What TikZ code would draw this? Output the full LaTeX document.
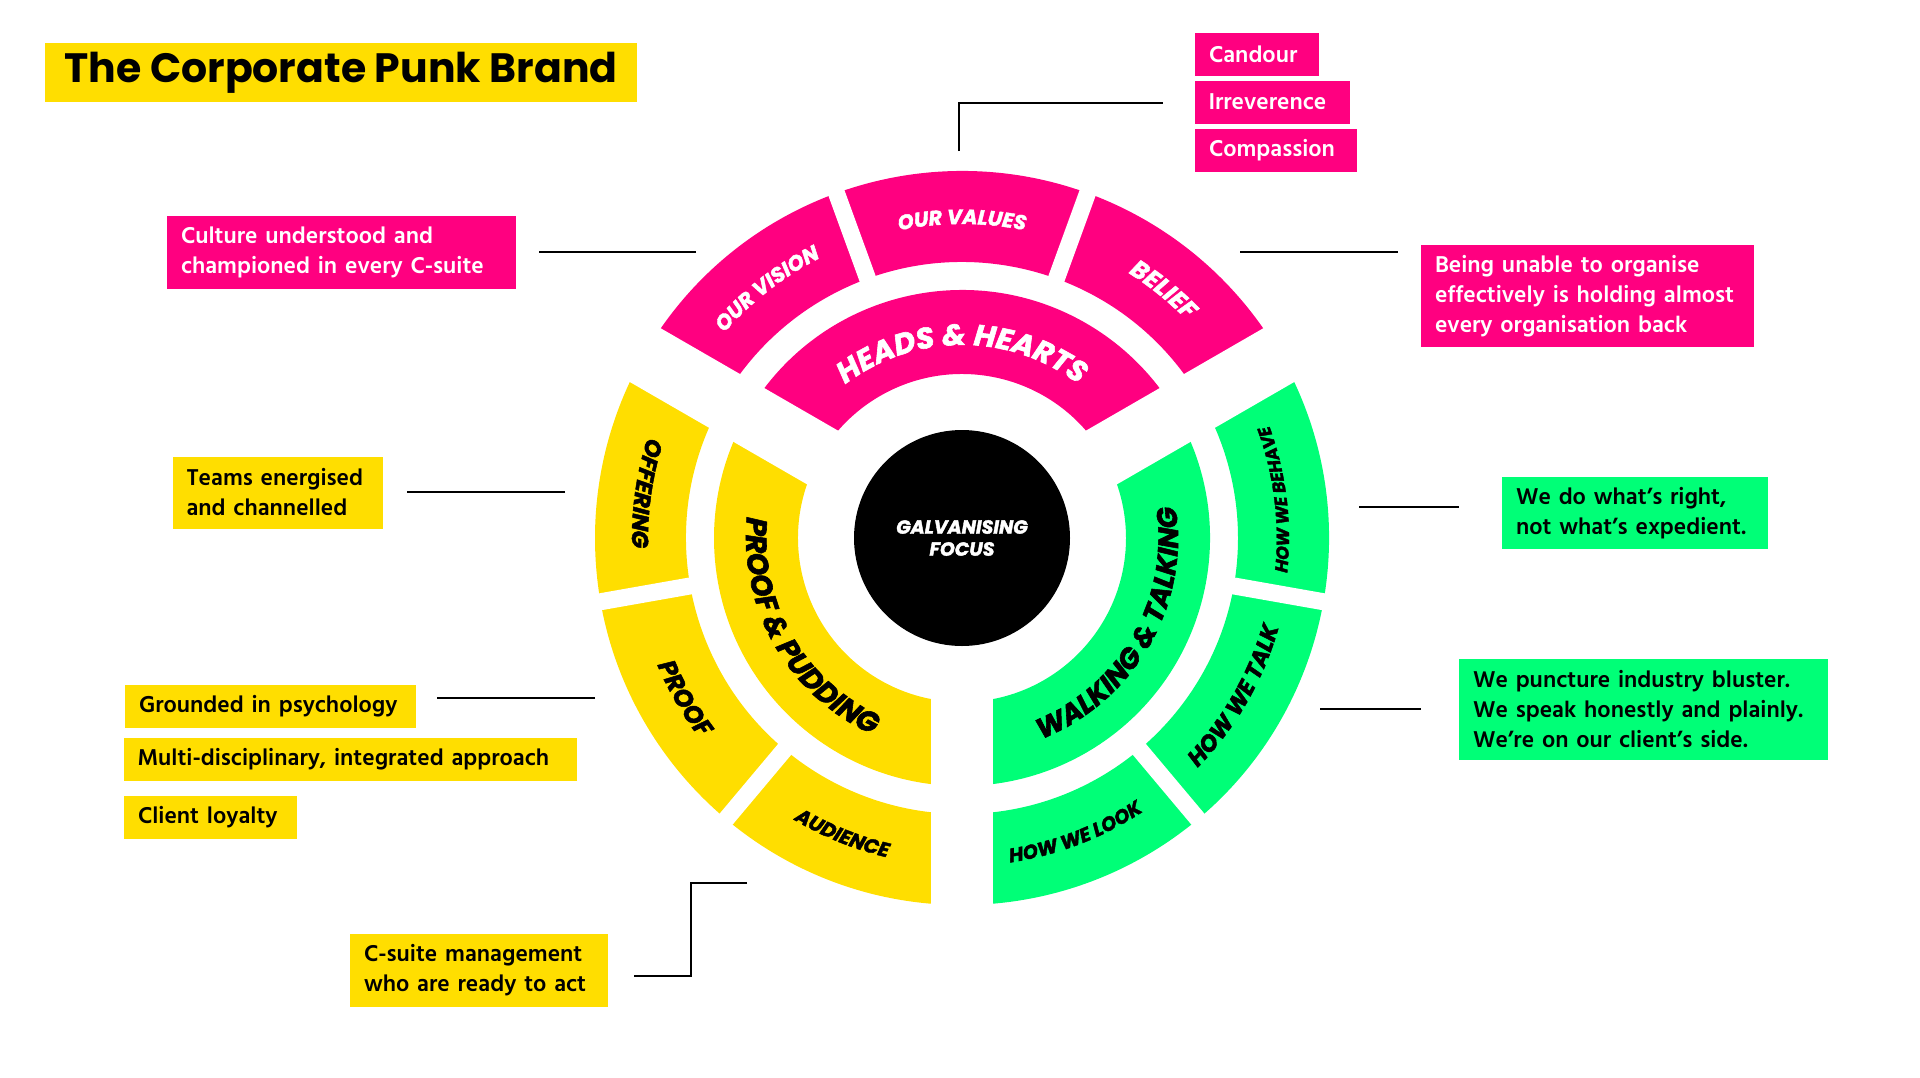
\documentclass[tikz,border=0pt]{standalone}
\usepackage{fontspec}
\usetikzlibrary{decorations.text}
\newfontfamily\punkfont{Poppins}[BoldItalicFeatures={FakeBold=2}]
\newfontfamily\titlefont{Poppins}
\newfontfamily\tagfont{Hind Siliguri}[UprightFont=* SemiBold]
\definecolor{punkpink}{RGB}{255,0,128}
\definecolor{punkyellow}{RGB}{255,222,0}
\definecolor{punkgreen}{RGB}{0,255,119}

\tikzset{
  tag/.style={inner xsep=14pt, inner ysep=0pt, align=left, font=\tagfont\fontsize{23.5}{30}\selectfont},
  leader/.style={line width=2pt, black},
  gap/.style={white, line width=62pt},
  subgap/.style={white, line width=17pt},
  arclabel/.style n args={3}{decorate, color=#1, decoration={text along path, text align=center,
    text={|\punkfont\bfseries\itshape\fontsize{#2}{#2}\selectfont\color{#1}|#3}}}
}

\begin{document}
\begin{tikzpicture}[x=1pt, y=1pt]
\useasboundingbox (0,0) rectangle (1920,-1077);
\coordinate (c) at (962,-538);

\foreach \col/\a in {punkpink/30, punkgreen/-90, punkyellow/150} {
    \fill[\col, shift={(c)}] (\a:164) arc[start angle=\a, end angle=\a+120, radius=164]
        -- (\a+120:248) arc[start angle=\a+120, end angle=\a, radius=248] -- cycle;
    \fill[\col, shift={(c)}] (\a:276) arc[start angle=\a, end angle=\a+120, radius=276]
        -- (\a+120:367) arc[start angle=\a+120, end angle=\a, radius=367] -- cycle;
}
\foreach \a in {30,150,270} {
    \draw[gap, shift={(c)}] (0,0) -- (\a:375);
}
\foreach \a in {70,110,190,230,310,350} {
    \draw[subgap, shift={(c)}] (\a:262) -- (\a:375);
}

\path[arclabel={white}{29.5}{HEADS {\&} HEARTS}, shift={(c)}] (150:193) arc[start angle=150, end angle=30, radius=193];
\path[arclabel={black}{29}{PROOF {\&} PUDDING}, shift={(c)}] (150:216) arc[start angle=150, end angle=270, radius=216];
\path[arclabel={black}{28}{WALKING {\&} TALKING}, shift={(c)}] (270:216) arc[start angle=270, end angle=390, radius=216];
\path[arclabel={white}{21}{OUR VISION}, shift={(c)}] (148:314) arc[start angle=148, end angle=108, radius=314];
\path[arclabel={white}{20.5}{OUR VALUES}, shift={(c)}] (110:314) arc[start angle=110, end angle=70, radius=314];
\path[arclabel={white}{24.5}{BELIEF}, shift={(c)}] (71:313) arc[start angle=71, end angle=31, radius=313];
\path[arclabel={black}{23}{OFFERING}, shift={(c)}] (152:330) arc[start angle=152, end angle=192, radius=330];
\path[arclabel={black}{25}{PROOF}, shift={(c)}] (190:330) arc[start angle=190, end angle=230, radius=330];
\path[arclabel={black}{20}{AUDIENCE}, shift={(c)}] (228:328) arc[start angle=228, end angle=268, radius=328];
\path[arclabel={black}{19.5}{HOW WE LOOK}, shift={(c)}] (271:328) arc[start angle=271, end angle=311, radius=328];
\path[arclabel={black}{23}{HOW WE TALK}, shift={(c)}] (310:329) arc[start angle=310, end angle=350, radius=329];
\path[arclabel={black}{17.5}{HOW WE BEHAVE}, shift={(c)}] (347:327) arc[start angle=347, end angle=387, radius=327];

\fill[black] (c) circle (108);
\node[align=center, white, font=\punkfont\bfseries\itshape\fontsize{19}{22}\selectfont] (focus) at (c) {GALVANISING\\FOCUS};

\node[fill=punkyellow, minimum width=592pt, minimum height=59pt, inner sep=0pt, font=\titlefont\bfseries\fontsize{41}{41}\selectfont] (title) at (341,-72.5) {The Corporate Punk Brand};

\node[tag, fill=punkpink, text=white, text width=321pt, minimum height=73pt] (vision) at (341.5,-252.5) {Culture understood and\\championed in every C-suite};
\node[tag, fill=punkpink, text=white, text width=96pt, minimum height=43pt] (candour) at (1257,-54) {Candour};
\node[tag, fill=punkpink, text=white, text width=127pt, minimum height=43pt] (irreverence) at (1272,-102) {Irreverence};
\node[tag, fill=punkpink, text=white, text width=134pt, minimum height=43pt] (compassion) at (1276,-150) {Compassion};
\node[tag, fill=punkpink, text=white, text width=305pt, minimum height=102pt] (belief) at (1587.5,-296) {Being unable to organise\\effectively is holding almost\\every organisation back};
\node[tag, fill=punkgreen, text width=238pt, minimum height=72pt] (behave) at (1635,-513) {We do what’s right,\\not what’s expedient.};
\node[tag, fill=punkgreen, text width=341pt, minimum height=101pt] (talk) at (1643.5,-709.5) {We puncture industry bluster.\\We speak honestly and plainly.\\We’re on our client’s side.};
\node[tag, fill=punkyellow, text width=182pt, minimum height=72pt] (teams) at (277.5,-492.5) {Teams energised\\and channelled};
\node[tag, fill=punkyellow, text width=263pt, minimum height=43pt] (grounded) at (270.5,-706) {Grounded in psychology};
\node[tag, fill=punkyellow, text width=425pt, minimum height=43pt] (multi) at (350,-759.5) {Multi-disciplinary, integrated approach};
\node[tag, fill=punkyellow, text width=145pt, minimum height=43pt] (client) at (210.5,-817) {Client loyalty};
\node[tag, fill=punkyellow, text width=230pt, minimum height=73pt] (csuite) at (479,-970.5) {C-suite management\\who are ready to act};

\coordinate (values-in) at (959,-151);
\coordinate (values-out) at (1163,-103);
\coordinate (vision-in) at (696,-252);
\coordinate (vision-out) at (539,-252);
\coordinate (belief-in) at (1240,-252);
\coordinate (belief-out) at (1398,-252);
\coordinate (offering-in) at (565,-492);
\coordinate (offering-out) at (407,-492);
\coordinate (behave-in) at (1359,-507);
\coordinate (behave-out) at (1459,-507);
\coordinate (talk-in) at (1320,-709);
\coordinate (talk-out) at (1421,-709);
\coordinate (proof-in) at (595,-698);
\coordinate (proof-out) at (437,-698);
\coordinate (audience-in) at (747,-883);
\coordinate (audience-bend) at (691,-976);
\coordinate (audience-out) at (634,-976);

\draw[leader] (values-in) |- (values-out);
\draw[leader] (vision-in) -- (vision-out);
\draw[leader] (belief-in) -- (belief-out);
\draw[leader] (offering-in) -- (offering-out);
\draw[leader] (behave-in) -- (behave-out);
\draw[leader] (talk-in) -- (talk-out);
\draw[leader] (proof-in) -- (proof-out);
\draw[leader] (audience-in) -| (audience-bend) -- (audience-out);
\end{tikzpicture}
\end{document}
